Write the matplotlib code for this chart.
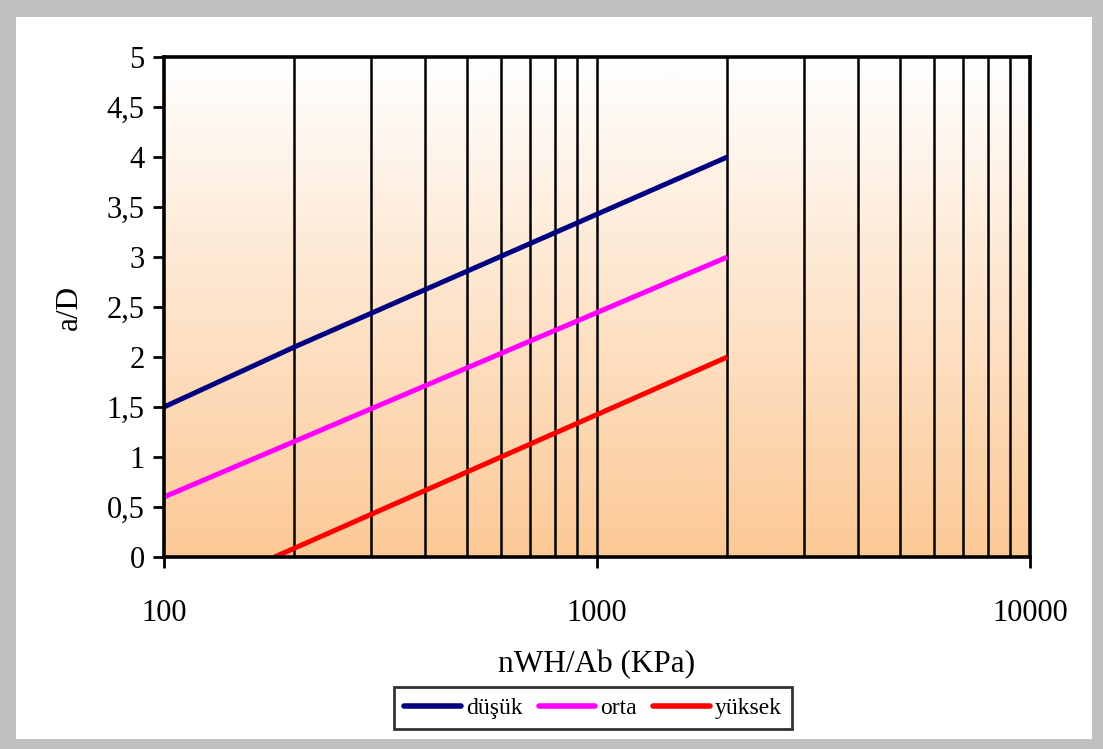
import numpy as np
import matplotlib
matplotlib.use("Agg")
import matplotlib.pyplot as plt
from matplotlib.patches import Rectangle
from matplotlib.colors import LinearSegmentedColormap
from matplotlib.ticker import FixedLocator, LogLocator, NullFormatter, FuncFormatter

plt.rcParams['font.family'] = ['Liberation Serif', 'DejaVu Serif']

# Series data (x: nWH/Ab in KPa, y: a/D)
dusuk_x = [100, 200, 2000]
dusuk_y = [1.5, 2.1, 4.0]
orta_x = [100, 2000]
orta_y = [0.6, 3.0]
yuksek_x = [180, 2000]
yuksek_y = [0.0, 2.0]

series_names = ["düşük", "orta", "yüksek"]
series_colors = ["#000080", "#FF00FF", "#FF0000"]

y_ticks = [0, 0.5, 1, 1.5, 2, 2.5, 3, 3.5, 4, 4.5, 5]
x_ticks = [100, 1000, 10000]

W, H = 1103, 749
fig = plt.figure(figsize=(W / 100, H / 100), dpi=100)
fig.patch.set_facecolor("#C0C0C0")
fig.add_artist(Rectangle((16 / W, 10 / H), (1092 - 16) / W, (732 - 10) / H,
                         transform=fig.transFigure, facecolor="white",
                         edgecolor="none", zorder=-5))

ax = fig.add_axes([164 / W, (H - 557) / H, (1030 - 164) / W, (557 - 57) / H])
ax.set_zorder(2)
ax.set_xscale("log")

# vertical gradient plot area: peach at bottom to white at top
cmap = LinearSegmentedColormap.from_list("bg", ["#FCC996", "#FFFFFF"])
grad = np.linspace(0, 1, 256).reshape(-1, 1)
ax.imshow(grad, aspect="auto", cmap=cmap, origin="lower",
          extent=[100, 10000, 0, 5], zorder=0, interpolation="bicubic")
ax.set_xlim(100, 10000)
ax.set_ylim(0, 5)

# vertical grid at every log subdivision
ax.xaxis.set_major_locator(FixedLocator(x_ticks))
ax.xaxis.set_minor_locator(LogLocator(base=10, subs=np.arange(2, 10)))
ax.xaxis.set_minor_formatter(NullFormatter())
ax.xaxis.set_major_formatter(FuncFormatter(lambda v, p: f"{int(round(v))}"))
grid_x = [m * 10 ** e for e in (2, 3) for m in range(2, 10)] + [1000]
for gx in grid_x:
    ax.axvline(gx, color="black", lw=1.8, zorder=1)

ax.yaxis.set_major_locator(FixedLocator(y_ticks))
ax.yaxis.set_major_formatter(FuncFormatter(lambda v, p: (f"{v:g}").replace(".", ",")))

for xs, ys, name, c in zip([dusuk_x, orta_x, yuksek_x], [dusuk_y, orta_y, yuksek_y],
                           series_names, series_colors):
    ax.plot(xs, ys, color=c, lw=3.6, label=name, zorder=3, solid_capstyle="butt",
            clip_on=True)

for s in ax.spines.values():
    s.set_linewidth(2.6)
    s.set_color("black")
    s.set_zorder(4)

ax.tick_params(axis="both", which="major", direction="out", length=8, width=2,
               labelsize=22, colors="black")
ax.tick_params(axis="x", which="minor", length=0)
ax.tick_params(axis="x", which="major", pad=22)
ax.tick_params(axis="y", which="major", pad=6)

ax.set_xlabel("nWH/Ab (KPa)", fontsize=22.5, labelpad=16)
ax.set_ylabel("a/D", fontsize=22.5, labelpad=16)

leg = fig.legend(loc="center", bbox_to_anchor=(593 / W, (H - 708) / H), ncol=3,
                 fontsize=17, frameon=True, fancybox=False, edgecolor="black",
                 handlelength=2.4, handletextpad=0.2, columnspacing=0.7,
                 borderpad=0.45, borderaxespad=0)
leg.get_frame().set_linewidth(2)
for lh in leg.get_lines():
    lh.set_linewidth(4)
    lh.set_solid_capstyle("round")

fig.savefig("out.png", dpi=100, facecolor=fig.get_facecolor())
